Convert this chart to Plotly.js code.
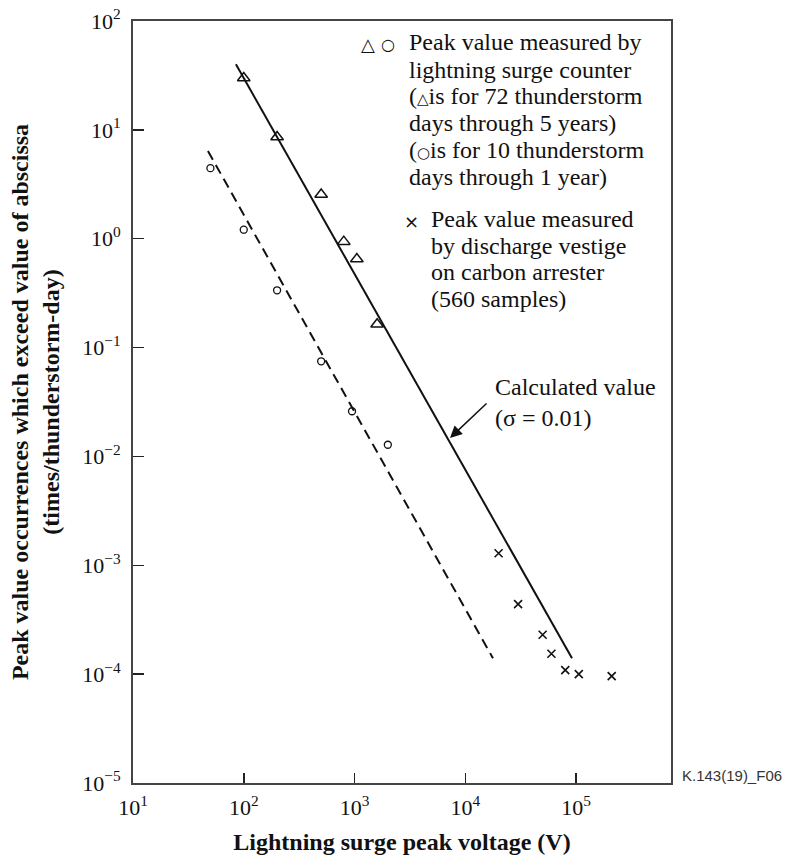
<!DOCTYPE html>
<html>
<head>
<meta charset="utf-8">
<script src="https://cdn.plot.ly/plotly-3.0.1.min.js"></script>
<style>html,body{margin:0;padding:0;background:#fff;} #chart{width:785px;height:861px;}</style>
</head>
<body>
<div id="chart"></div>
<script>
// ---- data ----
var triVoltage = [100, 200, 500, 800, 1050, 1600];
var triOccur   = [30, 8.6, 2.55, 0.94, 0.65, 0.164];

var circVoltage = [50, 100, 200, 500, 950, 2000];
var circOccur   = [4.45, 1.21, 0.336, 0.0748, 0.026, 0.0128];

var crossVoltage = [20000, 30000, 50000, 60000, 80000, 106000, 210000];
var crossOccur   = [0.00129, 0.00044, 0.00023, 0.000154, 0.000109, 0.0001, 0.000096];

var calcVoltage = [85, 92000];
var calcOccur   = [40, 0.00014];

var calc10Voltage = [47.5, 17800];
var calc10Occur   = [6.4, 0.00014];

var xTickVals = [10, 100, 1000, 10000, 100000];
var xTickText = ['10<sup>1</sup>', '10<sup>2</sup>', '10<sup>3</sup>', '10<sup>4</sup>', '10<sup>5</sup>'];
var yTickVals = [1e-5, 1e-4, 1e-3, 1e-2, 1e-1, 1, 10, 100];
var yTickText = ['10<sup>\u22125</sup>', '10<sup>\u22124</sup>', '10<sup>\u22123</sup>', '10<sup>\u22122</sup>',
                 '10<sup>\u22121</sup>', '10<sup>0</sup>', '10<sup>1</sup>', '10<sup>2</sup>'];

var legendLines1 = ['Peak value measured by', 'lightning surge counter',
  '(<span style="font-family:\'DejaVu Sans\';font-size:15px">\u25B3</span>is for 72 thunderstorm', 'days through 5 years)',
  '(<span style="font-family:\'DejaVu Sans\';font-size:15px">\u25CB</span>is for 10 thunderstorm', 'days through 1 year)'];
var legendLines2 = ['Peak value measured', 'by discharge vestige', 'on carbon arrester', '(560 samples)'];

// ---- layout helpers ----
var W = 785, H = 861;
var M = {l: 133, r: 114, t: 21, b: 78};
var PW = W - M.l - M.r, PH = H - M.t - M.b;
function px(x) { return (x - M.l) / PW; }
function py(y) { return (H - M.b - y) / PH; }

var SERIF = '"Liberation Serif", "Times New Roman", Times, serif';
var ink = '#111';

var traces = [
  {x: calcVoltage, y: calcOccur, mode: 'lines', line: {color: ink, width: 2}, hoverinfo: 'skip'},
  {x: calc10Voltage, y: calc10Occur, mode: 'lines', line: {color: ink, width: 2, dash: '10px,6px'}, hoverinfo: 'skip'},
  {x: triVoltage, y: triOccur, mode: 'markers',
   marker: {symbol: 'triangle-up-open', size: 11, color: ink, line: {width: 1.5, color: ink}}},
  {x: circVoltage, y: circOccur, mode: 'markers',
   marker: {symbol: 'circle-open', size: 7, color: ink, line: {width: 1.3, color: ink}}},
  {x: crossVoltage, y: crossOccur, mode: 'markers',
   marker: {symbol: 'x-thin-open', size: 8, color: ink, line: {width: 1.6, color: ink}}}
];

function lf() { return {family: SERIF, size: 24, color: ink}; }
var annotations = [];
var y1 = [42, 70, 96, 123, 150, 177];
legendLines1.forEach(function (t, i) {
  annotations.push({xref: 'paper', yref: 'paper', x: px(407), y: py(y1[i]), xanchor: 'left', yanchor: 'middle',
    text: t, showarrow: false, font: lf()});
});
var y2 = [219, 246, 272, 299];
legendLines2.forEach(function (t, i) {
  annotations.push({xref: 'paper', yref: 'paper', x: px(429), y: py(y2[i]), xanchor: 'left', yanchor: 'middle',
    text: t, showarrow: false, font: lf()});
});
annotations.push({xref: 'paper', yref: 'paper', x: px(368), y: py(44), xanchor: 'center', yanchor: 'middle',
  text: '\u25B3', showarrow: false, font: {family: 'DejaVu Sans', size: 18, color: ink}});
annotations.push({xref: 'paper', yref: 'paper', x: px(388), y: py(44), xanchor: 'center', yanchor: 'middle',
  text: '\u25CB', showarrow: false, font: {family: 'DejaVu Sans', size: 16, color: ink}});
annotations.push({xref: 'paper', yref: 'paper', x: px(411), y: py(222), xanchor: 'center', yanchor: 'middle',
  text: '\u00D7', showarrow: false, font: {family: 'DejaVu Sans', size: 18, color: ink}});
// calculated value label + arrow
annotations.push({xref: 'paper', yref: 'paper', x: px(493), y: py(403), xanchor: 'left', yanchor: 'middle',
  text: 'Calculated value<br>(\u03C3 = 0.01)', align: 'left', showarrow: false, font: lf()});
annotations.push({xref: 'paper', yref: 'paper', x: px(450), y: py(438), ax: 38, ay: -36, text: '',
  showarrow: true, arrowhead: 2, arrowsize: 1.6, arrowwidth: 1.5, arrowcolor: ink});
// figure id
annotations.push({xref: 'paper', yref: 'paper', x: px(680), y: py(775), xanchor: 'left', yanchor: 'middle',
  text: 'K.143(19)_F06', showarrow: false, font: {family: '"Liberation Sans", Arial, sans-serif', size: 15, color: '#333'}});

var layout = {
  width: W, height: H,
  margin: M,
  paper_bgcolor: '#fff', plot_bgcolor: '#fff',
  showlegend: false,
  font: {family: SERIF, color: ink},
  xaxis: {
    type: 'log', range: [1, 1 + PW / 110.75],
    tickmode: 'array', tickvals: xTickVals, ticktext: xTickText,
    ticks: 'inside', ticklen: 10, tickwidth: 1.5, tickcolor: '#222',
    showgrid: false, zeroline: false,
    showline: true, linecolor: '#444', linewidth: 2, mirror: true,
    tickfont: {family: SERIF, size: 22, color: ink},
    ticklabelstandoff: 4,
    title: {text: '<b>Lightning surge peak voltage (V)</b>', font: {family: SERIF, size: 24, color: ink}, standoff: 14}
  },
  yaxis: {
    type: 'log', range: [-5, 2],
    tickmode: 'array', tickvals: yTickVals, ticktext: yTickText,
    ticks: 'inside', ticklen: 11, tickwidth: 1.5, tickcolor: '#222',
    showgrid: false, zeroline: false,
    showline: true, linecolor: '#444', linewidth: 2, mirror: true,
    tickfont: {family: SERIF, size: 22, color: ink},
    ticklabelstandoff: 6,
    title: {text: '<b>Peak value occurrences which exceed value of abscissa<br>(times/thunderstorm-day)</b>',
            font: {family: SERIF, size: 24, color: ink}, standoff: 16}
  },
  annotations: annotations
};

Plotly.newPlot('chart', traces, layout, {displayModeBar: false, staticPlot: true});
</script>
</body>
</html>
